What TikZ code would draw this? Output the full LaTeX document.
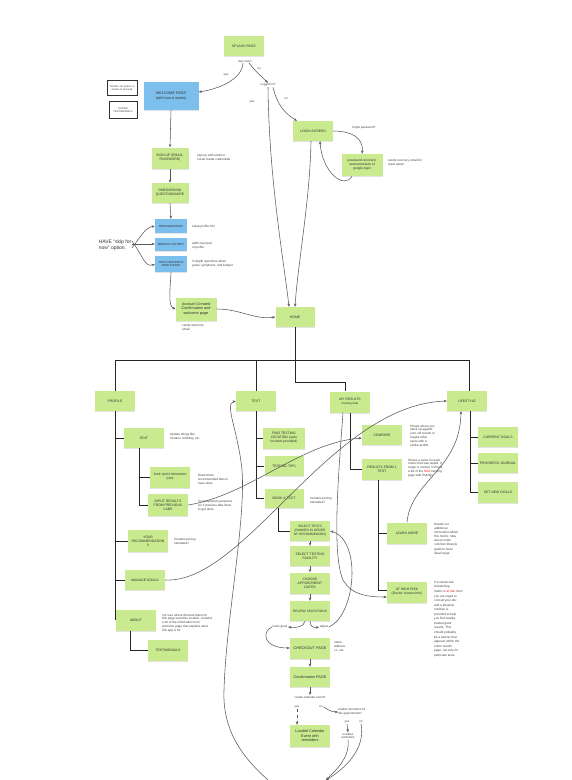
\documentclass[tikz,border=0pt]{standalone}
\usepackage{fontspec}
\setmainfont{Liberation Sans}
\usetikzlibrary{shadows,arrows.meta}
\definecolor{sticky}{RGB}{201,234,142}
\definecolor{stickyblue}{RGB}{124,190,236}
\tikzset{
  base/.style={align=center, inner sep=0.8pt, font=\fontsize{3.4}{4.1}\selectfont, text=black!80,
    minimum width=40pt, minimum height=20pt},
  gbox/.style={base, fill=sticky, drop shadow={shadow xshift=0.3pt, shadow yshift=-1.3pt, opacity=0.22}},
  bbox/.style={base, fill=stickyblue, drop shadow={shadow xshift=0.3pt, shadow yshift=-1.3pt, opacity=0.22}},
  framebox/.style={draw=black!80, line width=0.6pt, fill=white, align=center,
    font=\fontsize{2.6}{3.2}\selectfont, inner sep=0.5pt, text=black!75},
  note/.style={align=left, anchor=west, font=\fontsize{3.1}{3.9}\selectfont, text=black!75, inner sep=0pt},
  lbl/.style={font=\fontsize{3}{3.6}\selectfont, text=black!75, inner sep=0.6pt},
  tree/.style={draw=black!85, line width=0.75pt},
  arr/.style={draw=black!65, line width=0.55pt, -{Stealth[length=3.2pt,width=2.6pt]}}
}
\begin{document}
\begin{tikzpicture}[x=1pt,y=-1pt]
\useasboundingbox[fill=white] (0,0) rectangle (571,780);

% ---------- top: splash / welcome / login ----------
\node[gbox] (splash) at (244,46) {SPLASH PAGE};
\node[lbl] (newuser) at (245,61) {new user?};
\node[lbl] (yesA) at (226,75) {yes};
\node[lbl] (noA) at (259,69) {no};
\node[bbox, minimum width=55pt, minimum height=28pt, font=\fontsize{3.7}{4.5}\selectfont] (welcome) at (171,96) {WELCOME PAGE\\(with how it works)};
\node[framebox, minimum width=30pt, minimum height=15pt] (tut) at (122,88) {Tutorial: can press on\\arrows to proceed};
\node[framebox, minimum width=28pt, minimum height=17pt] (slides) at (123,110) {SLIDER\\TESTIMONIALS};
\node[lbl] (logged) at (268,85) {Logged in?};
\node[lbl] (yesB) at (252,102) {yes};
\node[lbl] (noB) at (286,99) {no};
\node[gbox] (login) at (313,131) {LOGIN SCREEN};
\node[lbl] (forgot) at (364,128) {forgot password?};
\node[gbox, minimum width=41pt, minimum height=22pt, font=\fontsize{3.3}{4.1}\selectfont] (recovery) at (362,165) {password recovery/\\username/auto or\\google login};
\node[note] (recnote) at (388,163) {sends recovery email for\\reset option};

\node[gbox, minimum width=37pt, minimum height=21pt] (signup) at (170,158) {SIGN UP (EMAIL,\\PASSWORD)};
\node[note] (signnote) at (197,157) {sign up with email or\\social media credentials};
\node[gbox, minimum width=37pt, minimum height=20pt] (onboard) at (170,193) {ONBOARDING\\QUESTIONNAIRE};
\node[bbox, minimum width=32pt, minimum height=14pt, font=\fontsize{2.9}{3.5}\selectfont] (demo) at (171,226) {DEMOGRAPHICS};
\node[note] (demonote) at (192,227) {setup profile info};
\node[bbox, minimum width=32pt, minimum height=13pt, font=\fontsize{2.9}{3.5}\selectfont] (medical) at (171,244) {MEDICAL HISTORY};
\node[note] (mednote) at (192,246) {add/cover part\\of profile};
\node[bbox, minimum width=32pt, minimum height=16pt, font=\fontsize{2.9}{3.5}\selectfont] (readiness) at (171,264) {TEST READINESS\\DATA INTAKE};
\node[note] (readnote) at (192,264) {in-depth questions about\\goals, symptoms, and budget};
\node[align=left, font=\fontsize{5}{6.2}\selectfont, text=black!80, inner sep=0.5pt] (skip) at (115,245) {HAVE “skip for\\now” option.};
\node[gbox, minimum width=41pt, minimum height=23pt, font=\fontsize{3.8}{4.6}\selectfont] (account) at (196,309) {Account Created\\Confirmation and\\welcome page};
\node[note] (accnote) at (182,327) {sends welcome\\email};
\node[gbox, minimum width=39pt] (home) at (295,317) {HOME};

% ---------- main sections ----------
\node[gbox] (profile) at (115,401) {PROFILE};
\node[gbox] (test) at (256,401) {TEST};
\node[gbox, minimum height=21pt] (results) at (350,402) {MY RESULTS\\{\fontsize{2.9}{3.5}\selectfont tracking data}};
\node[gbox] (lifestyle) at (467,401) {LIFESTYLE};

% profile
\node[gbox] (edit) at (144,438) {EDIT};
\node[note] (editnote) at (170,437) {Update things like\\location, birthday, etc.};
\node[gbox, minimum height=21pt, font=\fontsize{3}{3.8}\selectfont] (quiz) at (170,477) {TAKE QUESTIONNAIRE\\QUIZ};
\node[note] (quiznote) at (198,479) {Determines\\recommended labs to\\have done};
\node[gbox, minimum height=22pt] (input) at (168,505) {INPUT RESULTS\\FROM PREVIOUS\\LABS};
\node[note] (inputnote) at (198,506) {for comparison purposes\\(or if previous labs done\\to get done.};
\node[gbox, minimum height=22pt] (recs) at (148,541) {YOUR\\RECOMMENDATION\\S};
\node[note] (recsnote) at (174,541) {includes pricing\\estimates?};
\node[gbox] (goals) at (145,580) {MANAGE GOALS};
\node[gbox, minimum height=21pt] (about) at (136,620) {ABOUT};
\node[note] (aboutnote) at (162,623) {not sure where the best place for\\this page would be located. contains\\a lot of the information from\\welcome page that explains what\\this app is for};
\node[gbox, minimum height=21pt] (testimonials) at (168,650) {TESTIMONIALS};

% test
\node[gbox, minimum width=42pt, minimum height=21pt] (find) at (284,438) {FIND TESTING\\LOCATION (uses\\location provided)};
\node[gbox, minimum width=39pt] (tips) at (284,466) {TESTING TIPS};
\node[gbox, minimum width=39pt, minimum height=19pt] (book) at (284,498) {BOOK A TEST};
\node[note] (booknote) at (310,500) {includes pricing\\estimates?};
\node[gbox, font=\fontsize{3.2}{3.9}\selectfont] (select) at (310,531) {SELECT TESTS\\(RANKED IN ORDER\\OF RECOMMENDED)};
\node[gbox] (facility) at (310,556) {SELECT TESTING\\FACILITY};
\node[gbox, minimum height=21pt] (dates) at (310,583) {CHOOSE\\APPOINTMENT\\DATES};
\node[gbox, font=\fontsize{3.2}{3.9}\selectfont] (review) at (310,611) {REVIEW SELECTIONS};
\node[lbl] (looksgood) at (280,627) {looks good};
\node[lbl] (adjust) at (324,627) {adjust};
\node[gbox, minimum height=21pt, font=\fontsize{3.8}{4.6}\selectfont] (checkout) at (310,648) {CHECKOUT PAGE};
\node[note] (checknote) at (334,647) {name\\address\\cc. etc.};
\node[gbox, font=\fontsize{3.8}{4.6}\selectfont] (confirm) at (310,677) {Confirmation PAGE};
\node[lbl] (calq) at (310,697) {create calendar event?};
\node[lbl] (yesC) at (297,707) {yes};
\node[lbl] (noC) at (321,707) {no};
\node[note, font=\fontsize{3}{3.7}\selectfont] (remq) at (338,712) {enable reminders for\\this appointment?};
\node[lbl] (yesD) at (347,722) {yes};
\node[lbl] (noD) at (361,722) {no};
\node[lbl, align=center] (enables) at (348,736) {enables\\reminders};
\node[gbox, minimum height=22pt, font=\fontsize{3.8}{4.6}\selectfont] (loaded) at (310,736) {Loaded Calendar\\Event with\\reminders};
\coordinate (bot1) at (268,780);
\coordinate (bot2) at (326,780);

% my results
\node[gbox] (compare) at (382,435) {COMPARE};
\node[note] (comparenote) at (410,436) {Shows where you\\stack up against\\your old results or\\maybe other\\users with a\\similar profile};
\node[gbox, minimum height=21pt] (single) at (382,469) {RESULTS FROM 1\\TEST};
\node[note] (singlenote) at (408,468) {Shows a value for each\\metric that was tested. If\\range is normal, it shows\\a list of the \textcolor{red}{food} tracking\\page with findings};
\node[gbox, minimum height=21pt] (learn) at (407,533) {LEARN MORE};
\node[note, font=\fontsize{3.1}{4.1}\selectfont] (learnnote) at (434,539) {Details out\\additional\\information about\\this metric. May\\also provide\\common lifestyle\\goals to more\\ideal range};
\node[gbox, minimum height=21pt] (highrisk) at (407,592) {AT HIGH RISK\\(Doctor contact info)};
\node[note, font=\fontsize{3.1}{4.55}\selectfont] (risknote) at (434,619) {If a certain lab\\threatening\\metric is \textcolor{red}{at risk}, then\\you are urged to\\consult your doc\\and a physical\\nutrition is\\provided to help\\you find nearby\\trusted good\\results. This\\should probably\\be a banner that\\appears within the\\entire results\\page, not only for\\particular tests.};

% lifestyle
\node[gbox] (current) at (498,437) {CURRENT GOALS};
\node[gbox] (progress) at (498,463) {PROGRESS JOURNAL};
\node[gbox, minimum height=21pt] (setnew) at (498,492) {SET NEW GOALS};

% ---------- tree connectors ----------
\coordinate (hub) at (295,360);
\draw[tree] (home.south) -- (hub);
\draw[tree] (profile.north) -- (profile.north |- hub) -| ([xshift=2pt]lifestyle.north);
\draw[tree] (test.north) -- (test.north |- hub);
\draw[tree] (hub) -- ++(0,22) -| ([xshift=-5pt]results.north);

\draw[tree] (profile.south) -- (profile.south |- about.center);
\draw[tree] (profile.south |- edit.west) -- (edit.west);
\draw[tree] (profile.south |- recs.west) -- (recs.west);
\draw[tree] (profile.south |- goals.west) -- (goals.west);
\draw[tree] ([xshift=-5pt]edit.south) -- ([xshift=-5pt]edit.south |- input.west) -- (input.west);
\draw[tree] ([xshift=-5pt]edit.south |- quiz.west) -- (quiz.west);
\draw[tree] ([xshift=-6pt]about.south) |- (testimonials.west);

\draw[tree] (test.south) -- (test.south |- book.west) -- (book.west);
\draw[tree] (test.south |- find.west) -- (find.west);
\draw[tree] (test.south |- tips.west) -- (tips.west);
\draw[tree] ([xshift=-6pt]book.south) |- (select.west);

\draw[tree] (results.south) |- (single.west);
\draw[tree] ([xshift=-4pt]single.south) |- ([yshift=2pt]highrisk.west);
\draw[tree] ([xshift=-4pt]single.south |- learn.west) -- (learn.west);

\draw[tree] ([xshift=3pt]lifestyle.south) |- (setnew.west);
\draw[tree] ([xshift=3pt]lifestyle.south |- current.west) -- (current.west);
\draw[tree] ([xshift=3pt]lifestyle.south |- progress.west) -- (progress.west);

% ---------- arrows: top ----------
\draw[arr] ([xshift=-2pt]newuser.south) .. controls (242,80) and (218,89) .. ([yshift=4pt]welcome.east);
\draw[arr] ([xshift=4pt]newuser.south) .. controls (254,70) and (261,76) .. (logged.north);
\draw[arr] ([xshift=5pt]logged.south) .. controls (277,104) and (284,113) .. ([xshift=-16pt]login.north);
\draw[arr] (logged.south) .. controls (269,180) and (284,262) .. ([xshift=-6pt]home.north);
\draw[arr] ([xshift=-2pt]login.south) .. controls (310,200) and (298,262) .. (home.north);
\draw[arr] (login.east) .. controls (350,131) and (364,137) .. (recovery.north);
\draw[arr] ([xshift=-10pt]recovery.south) .. controls (344,190) and (322,172) .. ([xshift=7pt]login.south);
\draw[arr] (welcome.south) -- (signup.north);
\draw[arr] (signup.south) -- (onboard.north);
\draw[arr] (onboard.south) -- (demo.north);
\draw[arr] ([yshift=-3pt]skip.east) .. controls (141,236) and (145,228) .. (demo.west);
\draw[arr] ([yshift=1pt]skip.east) -- (medical.west);
\draw[arr] ([yshift=4pt]skip.east) .. controls (143,256) and (145,268) .. (readiness.west);
\draw[arr] (readiness.south) .. controls (170,292) and (168,306) .. (account.west);
\draw[arr] (account.east) .. controls (240,309) and (255,320) .. (home.west);

% ---------- arrows: middle ----------
\draw[arr] (goals.east) .. controls (245,584) and (330,405) .. (lifestyle.west);
\draw[arr] (input.east) .. controls (250,495) and (300,443) .. ([yshift=-3pt]compare.west);
\draw[arr] (bot1) .. controls (248,762) and (222,735) .. (224,690) .. controls (226,620) and (246,520) .. (242,470) .. controls (238,430) and (224,404) .. (test.west);
\draw[arr] ([xshift=-7pt]results.south) .. controls (338,480) and (332,555) .. (343,580) .. controls (352,596) and (370,597) .. ([yshift=-5pt]highrisk.west);
\draw[arr] (learn.north) .. controls (411,480) and (460,470) .. ([xshift=-6pt]lifestyle.south);

% ---------- arrows: booking flow ----------
\draw[arr] (select.south) -- (facility.north);
\draw[arr] (facility.south) -- (dates.north);
\draw[arr] (dates.south) -- (review.north);
\draw[arr] ([xshift=-5pt]review.south) .. controls (304,627) and (296,628) .. (looksgood.east);
\draw[arr] (looksgood.west) .. controls (262,631) and (262,648) .. (checkout.west);
\draw[arr] (review.south) .. controls (310,626) and (313,628) .. (adjust.west);
\draw[arr] (adjust.east) .. controls (356,615) and (362,540) .. (select.east);
\draw[arr] (checkout.south) -- (confirm.north);
\draw[arr] (confirm.south) -- (calq.north);
\draw[arr, dashed] (yesC.south) -- (yesC.south |- loaded.north);
\draw[arr] (noC.east) .. controls (326,708) and (330,712) .. (remq.west);
\draw[arr] (yesD.south) -- (enables.north);
\draw[arr] (enables.south) .. controls (350,758) and (336,770) .. (bot2);
\draw[arr] (noD.south) .. controls (366,748) and (346,768) .. (bot2);
\end{tikzpicture}
\end{document}
